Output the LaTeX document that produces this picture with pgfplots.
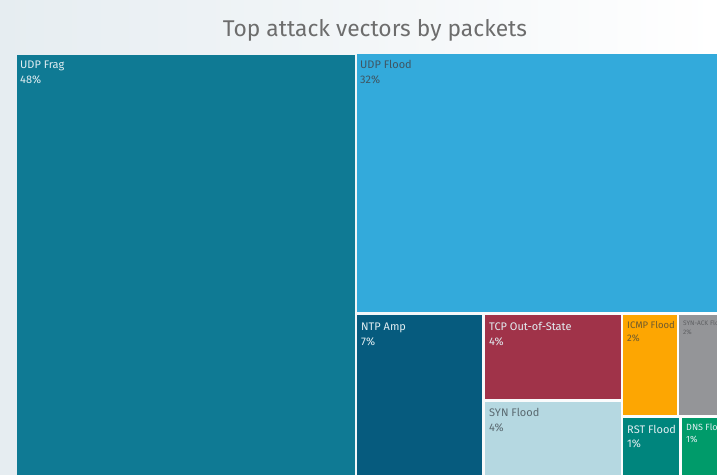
\documentclass[border=0pt]{standalone}
\usepackage{pgfplots}
\pgfplotsset{compat=1.18}
\usepackage{fontspec}
\setmainfont{Fira Sans}
\definecolor{bgL}{HTML}{E6EDF1}
\definecolor{cFrag}{HTML}{0F7A94}
\definecolor{cFlood}{HTML}{33AADB}
\definecolor{cNTP}{HTML}{065B7E}
\definecolor{cTCP}{HTML}{A03349}
\definecolor{cSYN}{HTML}{B5D8E1}
\definecolor{cICMP}{HTML}{FDA602}
\definecolor{cACK}{HTML}{949598}
\definecolor{cRST}{HTML}{00857D}
\definecolor{cDNS}{HTML}{009B6A}
\definecolor{tLight}{HTML}{E2EEF2}
\definecolor{tDark}{HTML}{3F5562}
\definecolor{tSyn}{HTML}{5A6970}
\definecolor{tICMP}{HTML}{6E5A2E}
\definecolor{tACK}{HTML}{5E5F62}
\definecolor{tTitle}{HTML}{6D6D6D}
\begin{document}
\begin{tikzpicture}
\useasboundingbox (0,0) rectangle (717bp,475bp);
\clip (0,0) rectangle (717bp,475bp);
\shade[left color=bgL, right color=white] (0,0) rectangle (717bp,475bp);
\begin{axis}[at={(0,0)}, anchor=south west, width=717bp, height=475bp, scale only axis,
  xmin=0, xmax=717, ymin=0, ymax=475, y dir=reverse, hide axis, clip=false]
\addplot[fill=cFrag, draw=none] coordinates {(17,55) (355,55) (355,480) (17,480)} -- cycle;
\addplot[fill=cFlood, draw=none] coordinates {(357,54) (720,54) (720,312) (357,312)} -- cycle;
\addplot[fill=cNTP, draw=none] coordinates {(357,315) (482,315) (482,480) (357,480)} -- cycle;
\addplot[fill=cTCP, draw=none] coordinates {(485,315) (621,315) (621,399) (485,399)} -- cycle;
\addplot[fill=cSYN, draw=none] coordinates {(485,402) (621,402) (621,480) (485,480)} -- cycle;
\addplot[fill=cICMP, draw=none] coordinates {(623,315) (677,315) (677,415) (623,415)} -- cycle;
\addplot[fill=cACK, draw=none] coordinates {(679,315) (720,315) (720,415) (679,415)} -- cycle;
\addplot[fill=cRST, draw=none] coordinates {(623,418) (679,418) (679,480) (623,480)} -- cycle;
\addplot[fill=cDNS, draw=none] coordinates {(682,418) (720,418) (720,480) (682,480)} -- cycle;
\node[anchor=base, text=tTitle, font=\fontsize{22.8bp}{27bp}\selectfont] at (axis cs:375,36.5) {Top attack vectors by packets};
\tikzset{lbl/.style={anchor=base west, inner sep=0pt, font=\fontsize{11bp}{13bp}\selectfont}}
\node[lbl, text=tLight] at (axis cs:20,69) {UDP Frag};
\node[lbl, text=tLight] at (axis cs:20,84) {48\%};
\node[lbl, text=tDark] at (axis cs:360,69) {UDP Flood};
\node[lbl, text=tDark] at (axis cs:360,84) {32\%};
\node[lbl, text=tLight] at (axis cs:361,330) {NTP Amp};
\node[lbl, text=tLight] at (axis cs:361,345) {7\%};
\node[lbl, text=tLight] at (axis cs:489,330) {TCP Out-of-State};
\node[lbl, text=tLight] at (axis cs:489,345) {4\%};
\node[lbl, text=tSyn] at (axis cs:489,416) {SYN Flood};
\node[lbl, text=tSyn] at (axis cs:489,431) {4\%};
\node[lbl, text=tICMP, font=\fontsize{9.5bp}{11bp}\selectfont] at (axis cs:627,328) {ICMP Flood};
\node[lbl, text=tICMP, font=\fontsize{9.5bp}{11bp}\selectfont] at (axis cs:627,341) {2\%};
\node[lbl, text=tACK, font=\fontsize{6.5bp}{8bp}\selectfont] at (axis cs:683,325) {SYN-ACK Flood};
\node[lbl, text=tACK, font=\fontsize{6.5bp}{8bp}\selectfont] at (axis cs:683,334) {2\%};
\node[lbl, text=tLight] at (axis cs:627,433) {RST Flood};
\node[lbl, text=tLight] at (axis cs:627,447) {1\%};
\node[lbl, text=tLight, font=\fontsize{9bp}{11bp}\selectfont] at (axis cs:686,430) {DNS Flood};
\node[lbl, text=tLight, font=\fontsize{9bp}{11bp}\selectfont] at (axis cs:686,442) {1\%};
\end{axis}
\end{tikzpicture}
\end{document}
